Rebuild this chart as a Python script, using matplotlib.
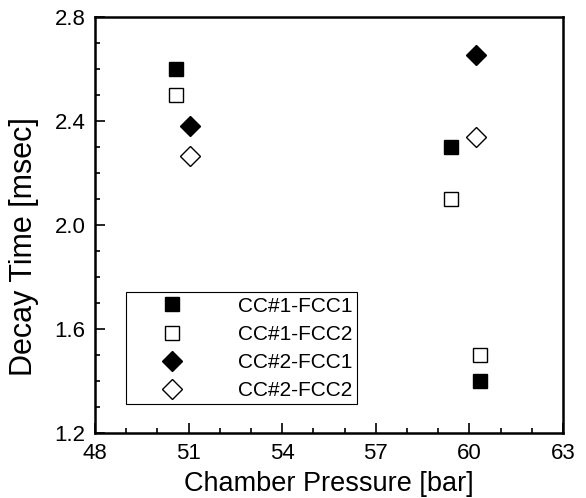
import matplotlib
matplotlib.use("Agg")
import matplotlib.pyplot as plt
from matplotlib.ticker import MultipleLocator

plt.rcParams['font.family'] = ['Liberation Sans', 'DejaVu Sans']

# data
cc1_fcc1_x = [50.6, 59.4, 60.35]
cc1_fcc1_y = [2.60, 2.30, 1.40]
cc1_fcc2_x = [50.6, 59.4, 60.35]
cc1_fcc2_y = [2.50, 2.10, 1.50]
cc2_fcc1_x = [51.05, 60.2]
cc2_fcc1_y = [2.38, 2.655]
cc2_fcc2_x = [51.05, 60.2]
cc2_fcc2_y = [2.265, 2.34]

fig = plt.figure(figsize=(5.86, 4.98), dpi=100)
ax = fig.add_axes([0.1621, 0.1305, 0.7987, 0.8354])

ms = 10.5
ax.plot(cc1_fcc1_x, cc1_fcc1_y, 's', ms=ms, color='black', mec='black', label='CC#1-FCC1')
ax.plot(cc1_fcc2_x, cc1_fcc2_y, 's', ms=ms, mfc='white', mec='black', mew=1, label='CC#1-FCC2')
ax.plot(cc2_fcc1_x, cc2_fcc1_y, 'D', ms=ms, color='black', mec='black', label='CC#2-FCC1')
ax.plot(cc2_fcc2_x, cc2_fcc2_y, 'D', ms=ms, mfc='white', mec='black', mew=1, label='CC#2-FCC2')

ax.set_xlim(48, 63)
ax.set_ylim(1.2, 2.8)
ax.xaxis.set_major_locator(MultipleLocator(3))
ax.xaxis.set_minor_locator(MultipleLocator(1))
ax.yaxis.set_minor_locator(MultipleLocator(0.1))
ax.set_yticks([1.2, 1.6, 2.0, 2.4, 2.8])
ax.set_yticklabels(['1.2', '1.6', '2.0', '2.4', '2.8'])

for s in ax.spines.values():
    s.set_linewidth(1.8)
ax.tick_params(which='both', direction='in', labelsize=16, width=1.2, pad=7)
ax.tick_params(which='major', length=7)
ax.tick_params(which='minor', length=3.5)

ax.set_xlabel('Chamber Pressure [bar]', fontsize=19.5, labelpad=5)
ax.set_ylabel('Decay Time [msec]', fontsize=22)
ax.yaxis.set_label_coords(-0.12, 0.448)

leg = ax.legend(loc='lower left', bbox_to_anchor=(0.066, 0.069), fontsize=15,
                frameon=True, fancybox=False, framealpha=1, edgecolor='black',
                borderpad=0.2, handlelength=4.0, handletextpad=1.2,
                labelspacing=0.44, borderaxespad=0, numpoints=1)
leg.get_frame().set_linewidth(0.8)

fig.savefig('out.png', dpi=100)
